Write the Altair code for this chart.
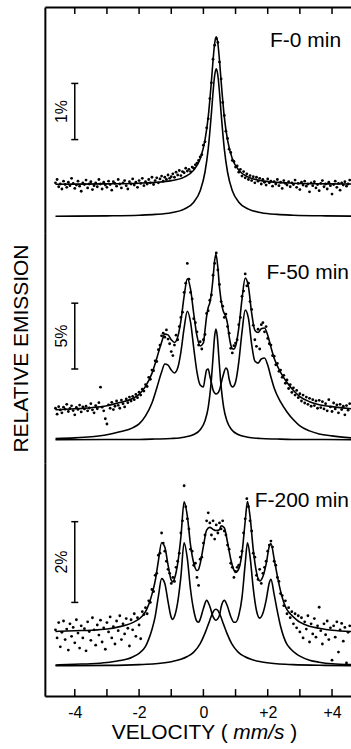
import altair as alt
import pandas as pd

FONT = "Liberation Sans"
X_DOMAIN = [-4.93, 4.59]
PANEL_W = 307
TICK_V = [-4, -3, -2, -1, 0, 1, 2, 3, 4]

# ---------------- measured points (velocity channels, mm/s) ----------------
DOT_V = [
    -4.60, -4.55, -4.50, -4.45, -4.40, -4.35, -4.30, -4.25, -4.20, -4.15,
    -4.10, -4.05, -4.00, -3.95, -3.90, -3.85, -3.80, -3.75, -3.70, -3.65,
    -3.60, -3.55, -3.50, -3.45, -3.40, -3.35, -3.30, -3.25, -3.20, -3.15,
    -3.10, -3.05, -3.00, -2.95, -2.90, -2.85, -2.80, -2.75, -2.70, -2.65,
    -2.60, -2.55, -2.50, -2.45, -2.40, -2.35, -2.30, -2.25, -2.20, -2.15,
    -2.10, -2.05, -2.00, -1.95, -1.90, -1.85, -1.80, -1.75, -1.70, -1.65,
    -1.60, -1.55, -1.50, -1.45, -1.40, -1.35, -1.30, -1.25, -1.20, -1.15,
    -1.10, -1.05, -1.00, -0.95, -0.90, -0.85, -0.80, -0.75, -0.70, -0.65,
    -0.60, -0.55, -0.50, -0.45, -0.40, -0.35, -0.30, -0.25, -0.20, -0.15,
    -0.10, -0.05, 0.00, 0.05, 0.10, 0.15, 0.20, 0.25, 0.30, 0.35,
    0.40, 0.45, 0.50, 0.55, 0.60, 0.65, 0.70, 0.75, 0.80, 0.85,
    0.90, 0.95, 1.00, 1.05, 1.10, 1.15, 1.20, 1.25, 1.30, 1.35,
    1.40, 1.45, 1.50, 1.55, 1.60, 1.65, 1.70, 1.75, 1.80, 1.85,
    1.90, 1.95, 2.00, 2.05, 2.10, 2.15, 2.20, 2.25, 2.30, 2.35,
    2.40, 2.45, 2.50, 2.55, 2.60, 2.65, 2.70, 2.75, 2.80, 2.85,
    2.90, 2.95, 3.00, 3.05, 3.10, 3.15, 3.20, 3.25, 3.30, 3.35,
    3.40, 3.45, 3.50, 3.55, 3.60, 3.65, 3.70, 3.75, 3.80, 3.85,
    3.90, 3.95, 4.00, 4.05, 4.10, 4.15, 4.20, 4.25, 4.30, 4.35,
    4.40, 4.45, 4.50, 4.55,
]

# relative emission (%) of the measured points
F0_DOTS = [
    0.60, 0.66, 0.53, 0.58, 0.49, 0.63, 0.57, 0.52, 0.61, 0.55,
    0.68, 0.59, 0.50, 0.56, 0.63, 0.54, 0.45, 0.60, 0.57, 0.65,
    0.51, 0.58, 0.62, 0.48, 0.55, 0.60, 0.53, 0.66, 0.58, 0.49,
    0.61, 0.56, 0.52, 0.63, 0.57, 0.47, 0.62, 0.59, 0.54, 0.66,
    0.58, 0.51, 0.60, 0.64, 0.55, 0.49, 0.62, 0.58, 0.67, 0.56,
    0.61, 0.52, 0.64, 0.59, 0.68, 0.55, 0.62, 0.58, 0.66, 0.60,
    0.70, 0.57, 0.64, 0.69, 0.60, 0.67, 0.72, 0.63, 0.70, 0.66,
    0.74, 0.68, 0.71, 0.76, 0.70, 0.79, 0.74, 0.82, 0.73, 0.80,
    0.78, 0.86, 0.81, 0.84, 0.80, 0.88, 0.86, 0.92, 0.95, 1.00,
    1.06, 1.10, 1.27, 1.33, 1.58, 1.74, 2.10, 2.38, 2.80, 3.05,
    3.17, 3.10, 2.75, 2.45, 2.03, 1.80, 1.52, 1.39, 1.20, 1.14,
    1.00, 0.98, 0.88, 0.90, 0.79, 0.84, 0.72, 0.80, 0.69, 0.76,
    0.66, 0.73, 0.64, 0.71, 0.60, 0.70, 0.63, 0.68, 0.58, 0.66,
    0.61, 0.56, 0.67, 0.60, 0.63, 0.54, 0.62, 0.58, 0.66, 0.55,
    0.61, 0.50, 0.64, 0.59, 0.56, 0.62, 0.53, 0.60, 0.57, 0.65,
    0.52, 0.59, 0.48, 0.61, 0.56, 0.63, 0.54, 0.58, 0.44, 0.60,
    0.55, 0.62, 0.51, 0.57, 0.46, 0.59, 0.64, 0.53, 0.58, 0.49,
    0.61, 0.55, 0.40, 0.57, 0.63, 0.52, 0.59, 0.47, 0.60, 0.56,
    0.62, 0.54, 0.58, 0.65,
]

F50_DOTS = [
    2.40, 1.95, 2.52, 2.27, 2.05, 2.48, 2.33, 2.70, 2.15, 2.38,
    2.58, 2.22, 1.90, 2.46, 2.31, 2.64, 2.12, 2.50, 2.35, 2.56,
    2.20, 2.42, 2.75, 2.28, 2.05, 2.60, 2.36, 2.82, 4.00, 2.48,
    2.20, 1.60, 1.20, 2.66, 2.40, 2.85, 2.30, 2.55, 2.95, 2.62,
    2.40, 3.02, 2.75, 2.50, 3.10, 2.82, 3.25, 2.95, 3.30, 3.05,
    3.45, 3.20, 3.62, 3.40, 3.85, 3.70, 4.20, 4.05, 4.75, 4.60,
    5.30, 5.25, 6.00, 5.95, 6.85, 7.20, 7.90, 8.10, 7.80, 8.35,
    7.65, 7.30, 6.70, 6.40, 7.20, 7.95, 7.60, 8.60, 9.30, 9.70,
    11.20, 11.90, 13.40, 12.20, 11.20, 10.70, 9.20, 8.90, 8.20, 7.20,
    7.45, 6.90, 7.60, 8.00, 9.60, 9.80, 10.60, 11.00, 12.50, 13.40,
    14.20, 12.90, 11.80, 10.50, 10.15, 9.30, 9.55, 8.60, 8.10, 6.95,
    6.60, 7.15, 7.35, 7.60, 8.75, 9.30, 10.90, 11.30, 12.60, 11.70,
    11.90, 10.50, 9.90, 8.70, 7.60, 7.10, 8.40, 6.90, 8.75, 8.90,
    8.20, 8.60, 7.70, 7.30, 7.20, 6.40, 6.35, 5.70, 5.80, 5.20,
    5.30, 4.75, 4.90, 4.30, 4.55, 3.90, 4.20, 3.60, 3.95, 3.40,
    3.75, 3.20, 3.50, 2.95, 3.40, 2.80, 3.25, 2.70, 3.15, 2.55,
    3.05, 2.60, 2.95, 2.40, 3.00, 2.45, 2.90, 2.35, 2.75, 2.20,
    3.05, 2.50, 2.15, 2.80, 2.35, 2.65, 2.05, 2.70, 2.30, 2.55,
    1.90, 2.60, 2.25, 2.75,
]

F200_DOTS = [
    0.90, 0.70, 1.08, 0.48, 0.84, 1.12, 0.66, 0.92, 0.40, 1.05,
    0.74, 0.96, 0.58, 1.15, 0.82, 0.45, 1.00, 0.70, 0.93, 0.38,
    1.10, 0.86, 0.64, 1.20, 0.90, 0.52, 1.02, 0.77, 1.14, 0.60,
    0.95, 0.42, 1.08, 0.85, 1.22, 0.70, 0.98, 0.55, 1.12, 0.88,
    1.25, 0.66, 1.05, 0.80, 1.18, 0.94, 0.50, 1.15, 0.90, 1.30,
    0.74, 1.20, 1.02, 0.68, 1.35, 1.28, 1.45, 1.30, 1.62, 1.58,
    1.90, 1.85, 2.25, 2.30, 2.75, 2.80, 3.30, 3.05, 2.85, 2.60,
    2.40, 2.30, 2.05, 2.20, 2.10, 2.45, 2.60, 2.80, 3.30, 3.60,
    4.47, 3.95, 3.65, 3.40, 2.90, 2.85, 2.50, 2.55, 2.20, 2.00,
    2.65, 2.70, 3.05, 3.25, 3.60, 3.80, 3.55, 3.25, 3.60, 3.15,
    3.50, 3.30, 3.55, 3.40, 3.60, 3.35, 3.25, 3.00, 2.90, 2.55,
    2.45, 2.20, 2.35, 2.45, 2.50, 2.70, 2.85, 3.30, 3.65, 4.15,
    3.95, 3.60, 3.35, 2.80, 2.70, 2.25, 2.15, 2.40, 2.05, 2.30,
    2.45, 2.60, 2.85, 3.00, 3.10, 2.95, 2.60, 2.50, 2.20, 2.10,
    1.80, 1.75, 1.50, 1.62, 1.30, 1.45, 1.20, 1.35, 1.05, 1.30,
    0.95, 1.25, 0.85, 1.20, 0.70, 1.10, 0.92, 1.25, 0.60, 1.05,
    0.80, 1.18, 0.72, 1.00, 1.46, 0.88, 0.55, 1.05, 0.78, 1.12,
    0.66, 0.95, 0.15, 1.00, 0.72, 1.10, 0.35, 0.90, 1.06, 0.62,
    0.96, 0.08, 0.84, 1.00,
]

# ---------------- fitted curves ----------------
F0_CURVE_V = [-4.6, -4.0, -3.0, -2.0, -1.5, -1.0, -0.6, -0.3, -0.1, 0.05, 0.15, 0.25, 0.30, 0.35,
              0.40, 0.45, 0.50, 0.55, 0.65, 0.75, 0.90, 1.10, 1.40, 1.80, 2.30, 2.80, 3.80, 4.60]
F0_TOTAL = [0.576, 0.577, 0.582, 0.594, 0.608, 0.639, 0.702, 0.826, 1.029, 1.363, 1.776, 2.416, 2.782, 3.081,
            3.200, 3.081, 2.782, 2.416, 1.776, 1.363, 1.029, 0.826, 0.702, 0.639, 0.608, 0.594, 0.582, 0.578]
F0_SINGLET = [0.006, 0.007, 0.012, 0.024, 0.038, 0.069, 0.132, 0.256, 0.459, 0.793, 1.206, 1.846, 2.212, 2.511,
              2.630, 2.511, 2.212, 1.846, 1.206, 0.793, 0.459, 0.256, 0.132, 0.069, 0.038, 0.024, 0.012, 0.008]

F50_CURVE_V = [-4.6, -4.0, -3.5, -3.0, -2.6, -2.2, -2.0, -1.8, -1.6, -1.45,
               -1.3, -1.2, -1.1, -1.0, -0.9, -0.8, -0.7, -0.6, -0.5, -0.4,
               -0.3, -0.2, -0.1, 0.0, 0.05, 0.1, 0.15, 0.2, 0.25, 0.3,
               0.35, 0.39, 0.45, 0.5, 0.6, 0.7, 0.75, 0.8, 0.85, 0.9,
               0.95, 1.0, 1.1, 1.2, 1.3, 1.4, 1.5, 1.6, 1.7, 1.8,
               1.9, 2.0, 2.1, 2.2, 2.4, 2.6, 2.8, 3.0, 3.3, 3.6,
               4.0, 4.6]
F50_TOTAL = [2.29, 2.36, 2.44, 2.59, 2.83, 3.14, 3.45, 4.06, 5.05, 6.20,
             7.42, 8.03, 7.97, 7.61, 7.39, 7.80, 9.03, 10.89, 12.23, 11.45,
             9.57, 7.89, 7.13, 7.36, 8.34, 9.37, 10.05, 10.41, 11.14, 12.27,
             13.64, 14.09, 13.07, 11.58, 9.93, 9.33, 8.82, 7.87, 7.22, 6.92,
             6.89, 7.10, 8.48, 10.67, 12.28, 11.64, 9.64, 8.32, 8.15, 8.44,
             8.50, 7.95, 7.04, 6.20, 5.13, 4.36, 3.75, 3.29, 2.90, 2.67,
             2.52, 2.36]
F50_MIDDLE = [0.10, 0.15, 0.23, 0.38, 0.61, 0.91, 1.21, 1.82, 2.80, 3.94,
              5.15, 5.76, 5.68, 5.30, 5.08, 5.45, 6.67, 8.48, 9.77, 8.94,
              6.97, 5.15, 4.17, 4.02, 4.70, 5.30, 5.38, 4.85, 4.32, 3.79,
              3.56, 3.48, 3.56, 3.79, 4.77, 5.45, 5.30, 4.62, 4.17, 4.02,
              4.09, 4.39, 5.91, 8.18, 9.85, 9.24, 7.27, 5.98, 5.83, 6.14,
              6.21, 5.68, 4.77, 3.94, 2.88, 2.12, 1.52, 1.06, 0.68, 0.45,
              0.30, 0.15]
F50_SINGLET_V = [-4.6, -3.0, -2.0, -1.5, -1.0, -0.6, -0.3, -0.1, 0.05, 0.15, 0.25, 0.30, 0.35, 0.39,
                 0.43, 0.48, 0.53, 0.63, 0.73, 0.88, 1.08, 1.38, 1.78, 2.28, 2.78, 3.78, 4.6]
F50_SINGLET = [0.01, 0.02, 0.03, 0.06, 0.10, 0.20, 0.40, 0.77, 1.45, 2.47, 4.63, 6.29, 7.89, 8.41,
               7.89, 6.29, 4.63, 2.47, 1.45, 0.77, 0.40, 0.20, 0.10, 0.06, 0.03, 0.02, 0.01]

F200_CURVE_V = [-4.6, -4.0, -3.5, -3.0, -2.6, -2.4, -2.2, -2.0, -1.8, -1.7,
                -1.6, -1.5, -1.4, -1.3, -1.2, -1.1, -1.0, -0.95, -0.9, -0.8,
                -0.7, -0.6, -0.5, -0.4, -0.3, -0.2, -0.15, -0.1, 0.0, 0.1,
                0.2, 0.3, 0.39, 0.5, 0.55, 0.65, 0.75, 0.85, 0.95, 1.0,
                1.1, 1.2, 1.3, 1.37, 1.45, 1.55, 1.65, 1.75, 1.85, 1.95,
                2.05, 2.1, 2.2, 2.3, 2.4, 2.5, 2.6, 2.7, 2.9, 3.0,
                3.3, 3.6, 4.0, 4.6]
F200_TOTAL = [0.86, 0.88, 0.89, 0.92, 0.98, 1.02, 1.08, 1.17, 1.35, 1.53,
              1.78, 2.11, 2.61, 3.06, 2.95, 2.51, 2.13, 2.09, 2.17, 2.54,
              3.20, 4.07, 3.72, 3.00, 2.55, 2.37, 2.40, 2.54, 2.97, 3.37,
              3.44, 3.39, 3.36, 3.38, 3.48, 3.43, 3.07, 2.65, 2.38, 2.32,
              2.41, 2.80, 3.59, 4.08, 3.71, 2.89, 2.33, 2.11, 2.22, 2.53,
              2.97, 3.04, 2.66, 2.23, 1.86, 1.58, 1.40, 1.30, 1.15, 1.09,
              0.99, 0.94, 0.89, 0.86]
F200_MIDDLE = [0.03, 0.05, 0.06, 0.09, 0.14, 0.17, 0.23, 0.32, 0.49, 0.67,
               0.91, 1.23, 1.73, 2.17, 2.05, 1.60, 1.21, 1.16, 1.23, 1.58,
               2.22, 3.06, 2.67, 1.90, 1.38, 1.11, 1.09, 1.16, 1.43, 1.63,
               1.48, 1.23, 1.14, 1.26, 1.46, 1.63, 1.48, 1.23, 1.09, 1.09,
               1.26, 1.70, 2.54, 3.06, 2.72, 1.93, 1.38, 1.19, 1.31, 1.63,
               2.07, 2.15, 1.78, 1.36, 0.99, 0.72, 0.54, 0.44, 0.30, 0.25,
               0.15, 0.10, 0.06, 0.04]
F200_BROAD_V = [-4.6, -3.0, -2.0, -1.5, -1.0, -0.7, -0.5, -0.3, -0.1, 0.05, 0.15, 0.25, 0.32, 0.39,
                0.46, 0.53, 0.63, 0.73, 0.88, 1.08, 1.28, 1.48, 1.78, 2.28, 2.78, 3.78, 4.6]
F200_BROAD = [0.01, 0.02, 0.04, 0.06, 0.11, 0.17, 0.24, 0.35, 0.56, 0.82, 1.03, 1.25, 1.37, 1.41,
              1.37, 1.25, 1.03, 0.82, 0.56, 0.35, 0.24, 0.17, 0.11, 0.06, 0.04, 0.02, 0.01]

# scale bars: (low %, high %, label)
BAR_V = -4.0
F0_BAR = (1.37, 2.37, "1%")
F50_BAR = (5.38, 10.38, "5%")
F200_BAR = (1.58, 3.58, "2%")

LABELS = ["F-0 min", "F-50 min", "F-200 min"]


def make_panel(dots, curves, y_domain, height, bar, label, label_x, label_y,
               x_axis, y_title, tick_span, extra=None):
    xs = alt.Scale(domain=X_DOMAIN, nice=False, zero=False)
    ys = alt.Scale(domain=y_domain, nice=False, zero=False)
    yaxis = alt.Axis(labels=False, ticks=False, grid=False, domainColor="black",
                     domainWidth=2, title=y_title, titleFont=FONT, titleFontSize=21,
                     titleFontWeight="normal", titleColor="black", titlePadding=13)

    def X(field):
        return alt.X(field, scale=xs, axis=x_axis)

    def Y(field):
        return alt.Y(field, scale=ys, axis=yaxis)

    dots_df = pd.DataFrame({"v": DOT_V, "y": dots})
    layers = [
        alt.Chart(dots_df).mark_circle(size=8, color="black", opacity=1, clip=True).encode(
            x=X("v:Q"), y=Y("y:Q"))
    ]
    for cv, cy in curves:
        df = pd.DataFrame({"v": cv, "y": cy})
        layers.append(
            alt.Chart(df).mark_line(color="black", strokeWidth=1.6, interpolate="monotone", clip=True).encode(
                x=X("v:Q"), y=Y("y:Q"))
        )
    lo, hi, txt = bar
    bar_df = pd.DataFrame({"v": [BAR_V], "y": [lo], "hi": [hi]})
    layers.append(alt.Chart(bar_df).mark_rule(color="black", strokeWidth=1.5).encode(
        x=X("v:Q"), y=Y("y:Q"), y2="hi:Q"))
    cap_df = pd.DataFrame({"v": [BAR_V, BAR_V], "v2": [BAR_V, BAR_V], "y": [lo, hi]})
    layers.append(alt.Chart(cap_df).mark_rule(color="black", strokeWidth=1.5, xOffset=-3.5, x2Offset=3.5).encode(
        x=X("v:Q"), x2="v2:Q", y=Y("y:Q")))
    mid_df = pd.DataFrame({"y": [(lo + hi) / 2], "t": [txt]})
    layers.append(alt.Chart(mid_df).mark_text(angle=270, font=FONT, fontSize=16, color="black",
                                              align="center", baseline="middle").encode(
        x=alt.value(17), y=Y("y:Q"), text="t:N"))
    lab_df = pd.DataFrame({"t": [label]})
    layers.append(alt.Chart(lab_df).mark_text(font=FONT, fontSize=21, color="black",
                                              align="right", baseline="alphabetic").encode(
        x=alt.value(label_x), y=alt.value(label_y), text="t:N"))
    if tick_span is not None:
        tick_df = pd.DataFrame({"v": TICK_V})
        layers.append(alt.Chart(tick_df).mark_rule(color="black", strokeWidth=1.5).encode(
            x=X("v:Q"), y=alt.value(tick_span[0]), y2=alt.value(tick_span[1])))
    if extra:
        layers.extend(extra)
    return alt.layer(*layers).properties(width=PANEL_W, height=height)


top_axis = alt.Axis(orient="top", labels=False, ticks=False, grid=False, domainColor="black",
                    domainWidth=2, title=None)
bottom_axis = alt.Axis(orient="bottom", values=TICK_V, ticks=False, grid=False, domainColor="black",
                       domainWidth=2, title=None, labelFont=FONT, labelFontSize=16, labelColor="black",
                       labelPadding=8, labelOverlap=False,
                       labelExpr="datum.value % 2 == 0 ? (datum.value > 0 ? '+' + datum.value : '' + datum.value) : ''")

H1, H2, H3 = 227, 230, 234
one = pd.DataFrame({"t": ["VELOCITY ("]})
two = pd.DataFrame({"t": ["mm/s"]})
three = pd.DataFrame({"t": [")"]})
title_marks = [
    alt.Chart(one).mark_text(font=FONT, fontSize=21, color="black", align="left", baseline="alphabetic").encode(
        x=alt.value(67), y=alt.value(H3 + 43), text="t:N"),
    alt.Chart(two).mark_text(font=FONT, fontSize=21, fontStyle="italic", color="black", align="left",
                             baseline="alphabetic").encode(x=alt.value(189), y=alt.value(H3 + 43), text="t:N"),
    alt.Chart(three).mark_text(font=FONT, fontSize=21, color="black", align="left", baseline="alphabetic").encode(
        x=alt.value(246), y=alt.value(H3 + 43), text="t:N"),
]

p1 = make_panel(F0_DOTS, [(F0_CURVE_V, F0_TOTAL), (F0_CURVE_V, F0_SINGLET)], [-0.30, 3.73], H1,
                F0_BAR, LABELS[0], 297, 40, top_axis, None, (0, 7))
p2 = make_panel(F50_DOTS, [(F50_CURVE_V, F50_TOTAL), (F50_CURVE_V, F50_MIDDLE), (F50_SINGLET_V, F50_SINGLET)],
                [-1.74, 15.68], H2, F50_BAR, LABELS[1], 305, 46, None, "RELATIVE EMISSION", None)
p3 = make_panel(F200_DOTS, [(F200_CURVE_V, F200_TOTAL), (F200_CURVE_V, F200_MIDDLE), (F200_BROAD_V, F200_BROAD)],
                [-0.74, 5.04], H3, F200_BAR, LABELS[2], 305, 44, bottom_axis, None, (H3 - 7, H3),
                extra=title_marks)

chart = alt.vconcat(p1, p2, p3, spacing=0).properties(
    padding={"left": 11, "top": 5, "right": 0, "bottom": 0},
    background="white",
).configure_view(stroke=None)

chart.save("out.html", embed_options={"renderer": "svg", "actions": False})
